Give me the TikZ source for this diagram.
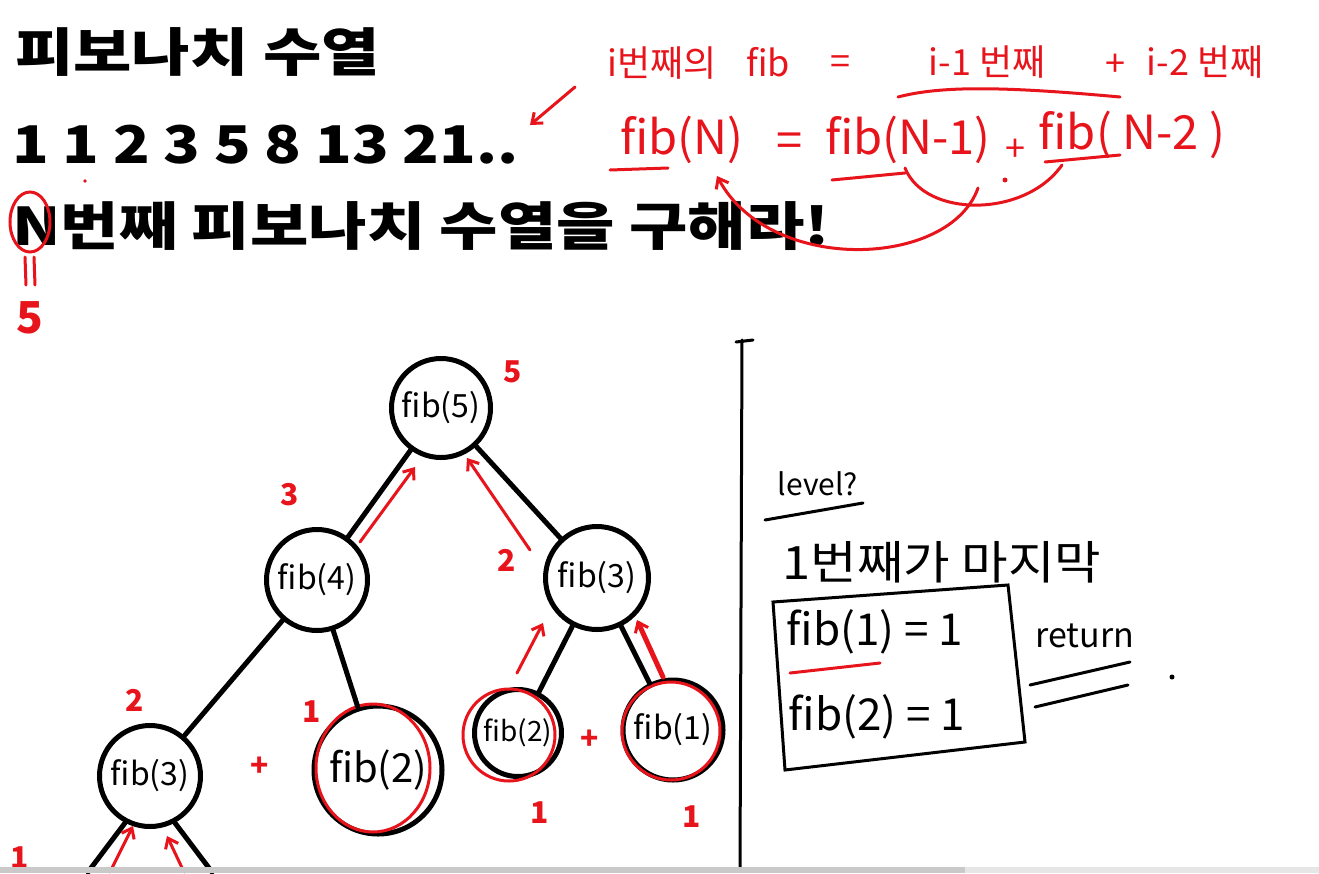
\documentclass[tikz,border=0pt]{standalone}
\usepackage{fontspec}
\setmainfont{Noto Sans CJK KR}
\usetikzlibrary{arrows.meta}
\definecolor{pen}{HTML}{E8141C}
\definecolor{barA}{HTML}{C9C9C9}
\definecolor{barB}{HTML}{E6E6E6}
\begin{document}
\begin{tikzpicture}[x=1pt,y=-1pt,
  heading/.style={anchor=base west, inner sep=0pt, font=\fontsize{52}{60}\selectfont\bfseries},
  hand/.style={text=pen, inner sep=0pt, font=\fontsize{36}{40}\selectfont},
  handbig/.style={text=pen, inner sep=0pt, font=\fontsize{47}{52}\selectfont},
  inkhand/.style={text=black, inner sep=0pt, font=\fontsize{44}{48}\selectfont},
  rednum/.style={text=pen, inner sep=0pt, font=\fontsize{30}{34}\selectfont\bfseries},
  fibnode/.style={circle, draw=black, line width=5pt, inner sep=0pt, font=\fontsize{32}{34}\selectfont},
  edge/.style={line width=5pt, line cap=round},
  penline/.style={draw=pen, line width=3pt, line cap=round},
  ret/.style={draw=pen, line width=3pt, line cap=round, -{Straight Barb[length=9pt,width=14pt,line width=3pt]}},
  inkline/.style={draw=black, line width=3pt, line cap=round}]
\useasboundingbox (0,0) rectangle (1319,873);
\fill[white] (0,0) rectangle (1319,873);

% ---- printed text
\node[heading] (title) at (15,71) {\scalebox{1.22}[1]{피보나치 수열}};
\node[heading] (seq) at (12,163) {\scalebox{1.16}[1]{1 1 2 3 5 8 13 21..}};
\node[heading] (task) at (12,245) {\scalebox{1.22}[1]{N번째 피보나치 수열을 구해라!}};

% ---- red annotations top
\node[hand] (a1) at (662,63) {i번째의};
\node[hand] (a2) at (768,62) {fib};
\node[hand] (a3) at (840,65) {=};
\node[hand] (a4) at (987,62) {i-1 번째};
\node[hand] (a5) at (1115,65) {+};
\node[hand] (a6) at (1205,62) {i-2 번째};
\node[handbig] (b1) at (682,140) {fib(N)};
\node[handbig] (b2) at (790,145) {=};
\node[handbig] (b3) at (908,140) {fib(N-1)};
\node[handbig, font=\fontsize{36}{40}\selectfont] (b4) at (1015,150) {+};
\node[handbig] (b5) at (1132,135) {fib( N-2 )};

\draw[penline] (898,97) .. controls (940,86) and (1000,86) .. (1120,97);
\draw[penline] (610,170) -- (668,168);
\draw[penline] (832,180) -- (905,173);
\draw[penline] (1045,162) -- (1120,155);
\draw[penline] (905,168) .. controls (925,218) and (1025,218) .. (1062,165);
\fill[pen] (1005,180) circle (2.5);
\coordinate (c1) at (978,188);
\coordinate (c2) at (717,176);
\draw[ret] (c1) .. controls (950,268) and (770,275) .. (c2);
\coordinate (s1) at (575,87);
\coordinate (s2) at (530,125);
\draw[ret] (s1) -- (s2);

% N circled = 5
\draw[penline] (30,222) ellipse [x radius=20, y radius=30];
\draw[penline] (25,257) -- (26,285);
\draw[penline] (34,257) -- (35,285);
\node[rednum, font=\fontsize{44}{48}\selectfont\bfseries] (nfive) at (30,318) {5};
\fill[pen] (85,181) circle (1.8);

% ---- tree
\node[fibnode, minimum size=99pt] (f5) at (441,408) {fib(5)};
\node[fibnode, minimum size=101pt] (f4) at (317,580) {fib(4)};
\node[fibnode, minimum size=103pt] (f3r) at (597,578) {fib(3)};
\node[fibnode, minimum size=101pt] (f3l) at (150,776) {fib(3)};
\node[fibnode, minimum size=128pt, font=\fontsize{40}{42}\selectfont] (f2m) at (378,770) {fib(2)};
\node[fibnode, minimum size=87pt, font=\fontsize{28}{30}\selectfont] (f2r) at (518,733) {fib(2)};
\node[fibnode, minimum size=100pt] (f1) at (673,730) {fib(1)};

\draw[penline] (373,768) ellipse [x radius=57, y radius=64];
\draw[penline] (509,735) circle (46);
\draw[penline] (671,731) circle (49);

\draw[edge] (f5) -- (f4);
\draw[edge] (f5) -- (f3r);
\draw[edge] (f4) -- (f3l);
\draw[edge] (f4) -- (f2m);
\draw[edge] (f3r) -- (f2r);
\draw[edge] (f3r) -- (f1);
\coordinate (l1) at (88,872);
\coordinate (l2) at (212,872);
\draw[edge] (f3l.-118) -- (l1);
\draw[edge] (f3l.-62) -- (l2);

% return arrows
\coordinate (r1a) at (360,542); \coordinate (r1b) at (415,467);
\coordinate (r2a) at (530,550); \coordinate (r2b) at (467,458);
\coordinate (r3a) at (517,673); \coordinate (r3b) at (543,623);
\coordinate (r4a) at (663,677); \coordinate (r4b) at (637,620);
\coordinate (r5a) at (110,872); \coordinate (r5b) at (133,826);
\coordinate (r6a) at (184,872); \coordinate (r6b) at (167,836);
\draw[ret] (r1a) -- (r1b);
\draw[ret] (r2a) -- (r2b);
\draw[ret] (r3a) -- (r3b);
\draw[ret, line width=5pt] (r4a) -- (r4b);
\draw[ret] (r5a) -- (r5b);
\draw[ret] (r6a) -- (r6b);

\node[rednum] (v5) at (513,372) {5};
\node[rednum] (v3) at (290,495) {3};
\node[rednum] (v2a) at (507,560) {2};
\node[rednum] (v2b) at (135,700) {2};
\node[rednum] (v1a) at (312,712) {1};
\node[rednum] (p1) at (260,767) {+};
\node[rednum] (p2) at (590,740) {+};
\node[rednum] (v1b) at (540,813) {1};
\node[rednum] (v1c) at (692,817) {1};
\node[rednum] (v1d) at (20,858) {1};

% ---- divider
\coordinate (d0) at (742,340);
\coordinate (d1) at (740,870);
\draw[inkline] (d0) -- (d1);
\draw[inkline] (736,342) -- (753,340);

% ---- right panel
\node[inkhand, font=\fontsize{30}{32}\selectfont] (lvl) at (818,484) {level?};
\draw[inkline] (765,520) -- (863,503);
\node[inkhand, font=\fontsize{46}{50}\selectfont] (last) at (942,562) {\scalebox{1.1}[1]{1번째가 마지막}};
\draw[inkline] (773,602) -- (1008,585) -- (1025,742) -- (785,770) -- cycle;
\node[inkhand] (fa) at (875,632) {fib(1) = 1};
\draw[penline] (790,673) -- (880,663);
\node[inkhand] (fb) at (877,717) {fib(2) = 1};
\node[inkhand, font=\fontsize{34}{36}\selectfont] (retword) at (1085,636) {return};
\draw[inkline] (1030,685) -- (1130,662);
\draw[inkline] (1035,707) -- (1128,685);
\fill (1172,677) circle (2.5);

% ---- bottom bar
\fill[barA] (0,867) rectangle (965,873);
\fill[barB] (965,867) rectangle (1319,873);
\end{tikzpicture}
\end{document}
